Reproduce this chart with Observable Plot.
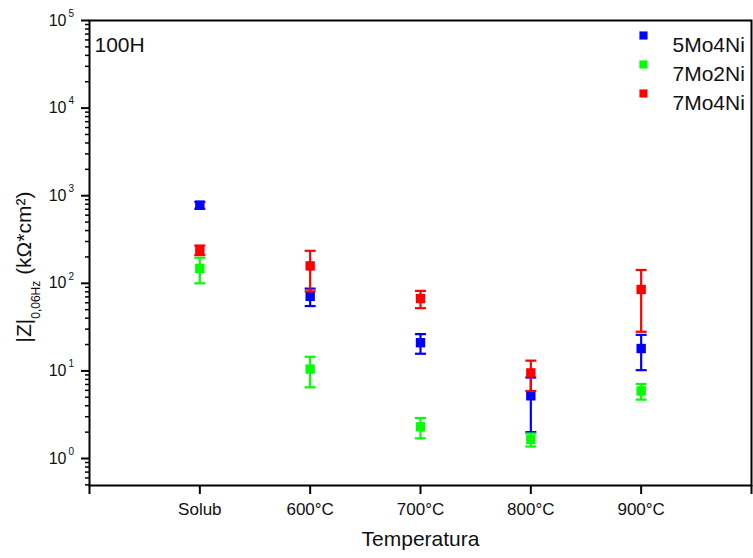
<!DOCTYPE html>
<html><head><meta charset="utf-8">
<script src="https://cdn.jsdelivr.net/npm/d3@7"></script>
<script src="https://cdn.jsdelivr.net/npm/@observablehq/plot@0.6"></script>
<style>body{margin:0;background:#fff} #chart svg{display:block}</style>
</head><body><div id="chart"></div>
<script>
const categories = ["Solub", "600°C", "700°C", "800°C", "900°C"];
const series = ["5Mo4Ni", "7Mo2Ni", "7Mo4Ni"];
const colors = ["#0000ff", "#00ff00", "#ff0000"];
const values5Mo4Ni = [780, 71, 21, 5.2, 18];
const errors5Mo4Ni = [70, 16, 5.3, 3.2, 7.8];
const values7Mo2Ni = [148, 10.5, 2.3, 1.65, 5.9];
const errors7Mo2Ni = [48, 4, 0.6, 0.28, 1.2];
const values7Mo4Ni = [240, 158, 67, 9.5, 85];
const errors7Mo4Ni = [30, 77, 15, 3.6, 57];
const yTickValues = [1, 10, 100, 1000, 10000, 100000];
const yTickExponents = ["0", "1", "2", "3", "4", "5"];
const xTitle = "Temperatura";
const panelLabel = "100H";

const valuesBySeries = [values5Mo4Ni, values7Mo2Ni, values7Mo4Ni];
const errorsBySeries = [errors5Mo4Ni, errors7Mo2Ni, errors7Mo4Ni];
const rowsBySeries = series.map((s, si) => categories.map((c, ci) => ({
  series: s, cat: c, x: ci + 1,
  value: valuesBySeries[si][ci],
  lo: valuesBySeries[si][ci] - errorsBySeries[si][ci],
  hi: valuesBySeries[si][ci] + errorsBySeries[si][ci]
})));

const yDomain = [0.492, 1e5];
const minorTicks = d3.scaleLog().domain(yDomain).ticks()
  .filter(v => Math.abs(Math.log10(v) - Math.round(Math.log10(v))) > 1e-6);

const capSymbol = { draw(context) { context.moveTo(-5.5, 0); context.lineTo(5.5, 0); } };
const font = "'Liberation Sans', Arial, sans-serif";

const seriesMarks = rowsBySeries.flatMap(rows => [
  Plot.ruleX(rows, {x: "x", y1: "lo", y2: "hi", stroke: "series", strokeWidth: 2.2}),
  Plot.dot(rows, {x: "x", y: "lo", symbol: capSymbol, r: 5, stroke: "series", fill: "none", strokeWidth: 2.2}),
  Plot.dot(rows, {x: "x", y: "hi", symbol: capSymbol, r: 5, stroke: "series", fill: "none", strokeWidth: 2.2}),
  Plot.dot(rows, {x: "x", y: "value", symbol: "square", r: 5.3, fill: "series", stroke: "none"})
]);

const legendMarks = series.flatMap((s, i) => [
  Plot.dot([s], {frameAnchor: "top-right", dx: -108, dy: 15 + i * 29, symbol: "square", r: 4.6, fill: d => d, stroke: "none"}),
  Plot.text([s], {frameAnchor: "top-right", dx: -79, dy: 16.3 + i * 29, text: d => d, textAnchor: "start", fontSize: 21, fill: "#111"})
]);

const plot = Plot.plot({
  width: 753, height: 558,
  marginLeft: 89, marginRight: 2, marginTop: 20, marginBottom: 73,
  style: {fontFamily: font, background: "#fff", color: "#000"},
  x: {type: "linear", domain: [0, categories.length + 1]},
  y: {type: "log", domain: yDomain},
  color: {domain: series, range: colors},
  marks: [
    Plot.axisY({ticks: minorTicks, tickSize: 4, tickFormat: () => "", strokeWidth: 1.5, label: null}),
    Plot.axisY({ticks: yTickValues, tickSize: 8, tickFormat: () => "", strokeWidth: 2, label: null}),
    Plot.axisX({ticks: d3.range(0, categories.length + 2), tickSize: 9, tickPadding: 8,
      tickFormat: i => categories[i - 1] ?? "", fontSize: 17, strokeWidth: 2, label: null, fill: "#111"}),
    Plot.text(yTickValues, {y: d => d, text: () => "10", frameAnchor: "left", textAnchor: "end", dx: -23, fontSize: 16, fill: "#111"}),
    Plot.text(yTickValues, {y: d => d, text: (d, i) => yTickExponents[i], frameAnchor: "left", textAnchor: "start", dx: -21, dy: -7, fontSize: 10, fill: "#111"}),
    Plot.text([xTitle], {frameAnchor: "bottom", dy: 60, text: d => d, fontSize: 21, fill: "#111"}),
    Plot.text([panelLabel], {frameAnchor: "top-left", dx: 5, dy: 16.8, text: d => d, textAnchor: "start", fontSize: 21, fill: "#111"}),
    Plot.frame({stroke: "#000", strokeWidth: 2}),
    ...seriesMarks,
    ...legendMarks
  ]
});

const svg = d3.select(plot);
const t = svg.append("text")
  .attr("transform", "translate(31,267) rotate(-90)")
  .attr("text-anchor", "middle")
  .attr("font-family", font)
  .attr("fill", "#111")
  .attr("font-size", 21);
t.append("tspan").text("|Z|");
t.append("tspan").attr("font-size", 12).attr("dy", 9).text("0,06Hz");
t.append("tspan").attr("dy", -9).text(" (kΩ*cm²)");

document.getElementById("chart").appendChild(plot);
</script>
</body></html>
